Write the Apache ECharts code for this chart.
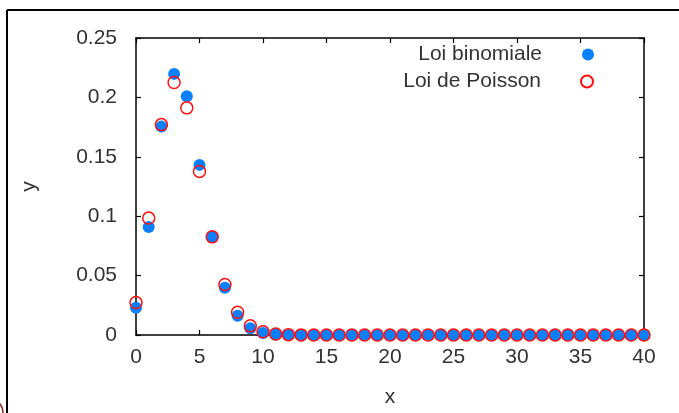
<!DOCTYPE html>
<html>
<head>
<meta charset="utf-8">
<script src="https://cdn.jsdelivr.net/npm/echarts@6/dist/echarts.min.js"></script>
<style>html,body{margin:0;padding:0;background:#fff}#c{width:679px;height:413px}</style>
</head>
<body>
<div id="c"></div>
<script>
const xs = [0,1,2,3,4,5,6,7,8,9,10,11,12,13,14,15,16,17,18,19,20,21,22,23,24,25,26,27,28,29,30,31,32,33,34,35,36,37,38,39,40];
const binomiale = [0.0230,0.0910,0.1754,0.2198,0.2010,0.1432,0.0826,0.0397,0.0162,0.0057,0.0017,0.0005,0.0001,0,0,0,0,0,0,0,0,0,0,0,0,0,0,0,0,0,0,0,0,0,0,0,0,0,0,0,0];
const poisson = [0.0273,0.0984,0.1771,0.2125,0.1912,0.1377,0.0826,0.0425,0.0191,0.0077,0.0028,0.0009,0.0003,0.0001,0,0,0,0,0,0,0,0,0,0,0,0,0,0,0,0,0,0,0,0,0,0,0,0,0,0,0];
const yTicks = [0, 0.05, 0.1, 0.15, 0.2, 0.25];
const xTicks = [0, 5, 10, 15, 20, 25, 30, 35, 40];
const nameBin = 'Loi binomiale';
const namePoi = 'Loi de Poisson';

const chart = echarts.init(document.getElementById('c'), null, {renderer: 'canvas'});
const font = 'Liberation Sans, Arial, sans-serif';
const txt = '#333';
function axisCommon() {
  return {
    axisLine: {show: true, onZero: false, lineStyle: {color: '#000', width: 1.5}},
    axisTick: {show: true, inside: true, length: 5, lineStyle: {color: '#000', width: 1.2}},
    splitLine: {show: false}
  };
}
chart.setOption({
  animation: false,
  backgroundColor: '#fff',
  grid: {left: 136, right: 35, top: 38, bottom: 78},
  legend: [
    {data: [nameBin], orient: 'vertical', right: 80, top: 39, align: 'right', itemWidth: 82, itemHeight: 12,
     textStyle: {fontFamily: font, fontSize: 21, color: txt}},
    {data: [namePoi], orient: 'vertical', right: 80, top: 66, align: 'right', itemWidth: 82, itemHeight: 12,
     textStyle: {fontFamily: font, fontSize: 21, color: txt}}
  ],
  xAxis: [
    Object.assign({type: 'value', min: xTicks[0], max: xTicks[xTicks.length-1], interval: 5, position: 'bottom',
      name: 'x', nameLocation: 'middle', nameGap: 52,
      nameTextStyle: {fontFamily: font, fontSize: 21, color: txt},
      axisLabel: {fontFamily: font, fontSize: 21, color: txt, margin: 12}}, axisCommon()),
    Object.assign({type: 'value', min: xTicks[0], max: xTicks[xTicks.length-1], interval: 5, position: 'top',
      axisLabel: {show: false}}, axisCommon())
  ],
  yAxis: [
    Object.assign({type: 'value', min: yTicks[0], max: yTicks[yTicks.length-1], interval: 0.05, position: 'left',
      name: 'y', nameLocation: 'middle', nameGap: 96,
      nameTextStyle: {fontFamily: font, fontSize: 21, color: txt},
      axisLabel: {fontFamily: font, fontSize: 21, color: txt, margin: 19}}, axisCommon()),
    Object.assign({type: 'value', min: yTicks[0], max: yTicks[yTicks.length-1], interval: 0.05, position: 'right',
      axisLabel: {show: false}}, axisCommon())
  ],
  series: [
    {name: nameBin, type: 'scatter', symbol: 'circle', symbolSize: 12, xAxisIndex: 0, yAxisIndex: 0,
     itemStyle: {color: '#0a80ff', opacity: 1},
     data: xs.map((x, i) => [x, binomiale[i]])},
    {name: namePoi, type: 'scatter', symbol: 'circle', symbolSize: 12, xAxisIndex: 0, yAxisIndex: 0,
     itemStyle: {color: 'rgba(255,255,255,0)', borderColor: '#ff1010', borderWidth: 1.5, opacity: 1},
     data: xs.map((x, i) => [x, poisson[i]])}
  ],
  graphic: [
    {type: 'line', shape: {x1: 7, y1: 10, x2: 679, y2: 10}, style: {stroke: '#000', lineWidth: 2}, silent: true},
    {type: 'line', shape: {x1: 7, y1: 10, x2: 7, y2: 413}, style: {stroke: '#000', lineWidth: 2}, silent: true},
    {type: 'arc', shape: {cx: -12, cy: 413, r: 15, startAngle: -Math.PI/2, endAngle: 0}, style: {stroke: '#8b2a2a', lineWidth: 1.5, fill: null}, silent: true}
  ]
});
</script>
</body>
</html>
